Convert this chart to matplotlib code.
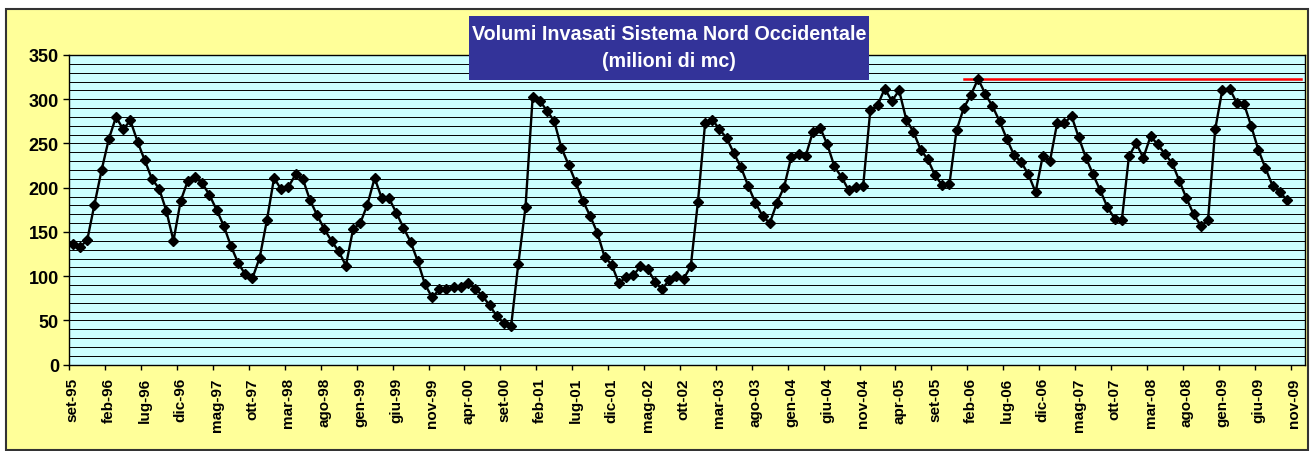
import matplotlib
matplotlib.use("Agg")
import matplotlib.pyplot as plt
from matplotlib.patches import Rectangle
import numpy as np

plt.rcParams['font.family'] = ['Liberation Sans', 'DejaVu Sans']
plt.rcParams['font.weight'] = 'bold'

# month abbreviations (Italian), series starts at set-95
mesi = ['gen', 'feb', 'mar', 'apr', 'mag', 'giu', 'lug', 'ago', 'set', 'ott', 'nov', 'dic']

# volumes, million m3, monthly from set-95 to ott-09
volumi = [
    136, 133, 141, 181, 220, 255, 280, 266, 276, 252, 231, 210, 199, 174, 140,
    185, 208, 212, 205, 192, 175, 157, 134, 115, 102, 98, 121, 163, 211, 198,
    201, 215, 210, 186, 169, 153, 140, 128, 112, 153, 160, 181, 211, 188, 188,
    172, 155, 139, 117, 91, 76, 85, 85, 88, 88, 92, 86, 78, 67, 55,
    47, 44, 114, 178, 303, 298, 287, 275, 245, 226, 206, 185, 168, 149, 122,
    113, 92, 99, 101, 111, 108, 94, 85, 96, 100, 97, 111, 184, 273, 277,
    266, 256, 239, 223, 202, 183, 168, 160, 183, 201, 235, 238, 236, 263, 268,
    249, 224, 212, 197, 201, 202, 288, 293, 312, 298, 310, 277, 263, 243, 232,
    214, 203, 204, 265, 290, 305, 323, 306, 292, 275, 255, 237, 229, 215, 195,
    236, 230, 273, 273, 281, 257, 234, 215, 197, 178, 165, 163, 236, 250, 234,
    258, 249, 238, 228, 208, 188, 170, 157, 163, 266, 311, 312, 296, 295, 270,
    243, 222, 202, 195, 186,
]

n_cat = 172  # categories on the axis: set-95 .. dic-09
etichette = [f"{mesi[(8 + i) % 12]}-{(95 + (8 + i) // 12) % 100:02d}" for i in range(n_cat)]

# reference line at the maximum, from gen-06 to dic-09
rif_da = etichette.index('gen-06')
rif_a = etichette.index('dic-09')
rif_val = max(volumi)

fig = plt.figure(figsize=(13.1, 4.52), dpi=100)
fig.patch.set_facecolor('white')

# yellow chart area with border
fig.patches.append(Rectangle((6 / 1310, 1 / 452), 1302 / 1310, 441 / 452,
                             transform=fig.transFigure, facecolor='#FFFF99',
                             edgecolor='#333333', linewidth=1.5, zorder=-2))

ax = fig.add_axes([69.3 / 1310, 1 - 365.7 / 452, (1305 - 69.3) / 1310, (365.7 - 56) / 452])
ax.set_facecolor('#CCFFFF')

x = np.arange(len(volumi))
ax.plot([rif_da, rif_a], [rif_val, rif_val], color='#FF0000', linewidth=1.8, zorder=3)
ax.plot(x, volumi, color='black', linewidth=1.7, marker='D', markersize=5.2, zorder=4)

ax.set_xlim(-0.5, n_cat - 0.5)
ax.set_ylim(0, 350)

ax.set_yticks(np.arange(0, 351, 50))
ax.set_yticks(np.arange(0, 351, 10), minor=True)
ax.yaxis.grid(True, which='both', color='black', linewidth=0.7)
ax.tick_params(axis='y', which='major', direction='out', length=4.5, width=1, labelsize=13, pad=3)
ax.tick_params(axis='y', which='minor', length=0)
ax.set_axisbelow(True)

pos = np.arange(0, n_cat - 1, 5)
ax.set_xticks(pos - 0.5)
ax.set_xticklabels([])
ax.set_xticks(pos, minor=True)
ax.set_xticklabels([etichette[p] for p in pos], minor=True, rotation=90)
ax.tick_params(axis='x', which='major', direction='out', length=3.5, width=1)
ax.tick_params(axis='x', which='minor', length=0, labelsize=11, pad=9)

for s in ax.spines.values():
    s.set_color('black')
    s.set_linewidth(1)

# title box
fig.patches.append(Rectangle((469 / 1310, 1 - 80.7 / 452), 400 / 1310, 64 / 452,
                             transform=fig.transFigure, facecolor='#333399',
                             edgecolor='none', zorder=5))
fig.text(669 / 1310, 1 - 34.5 / 452, 'Volumi Invasati Sistema Nord Occidentale',
         color='white', fontsize=14.2, fontweight='bold', ha='center', va='center', zorder=6)
fig.text(669 / 1310, 1 - 61.5 / 452, '(milioni di mc)',
         color='white', fontsize=14.2, fontweight='bold', ha='center', va='center', zorder=6)

fig.savefig('out.png', dpi=100)
